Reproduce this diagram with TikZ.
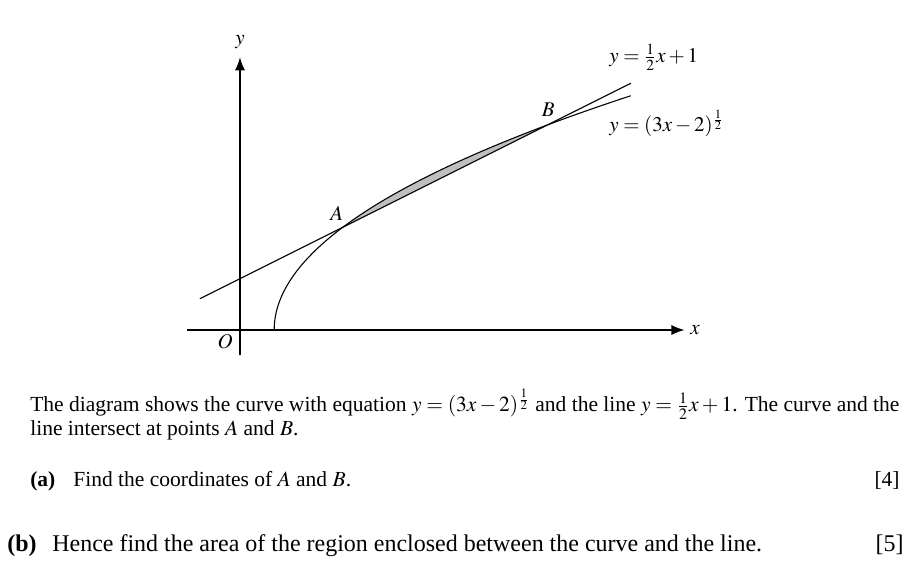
\documentclass[tikz,border=0pt]{standalone}
\usepackage{amsmath}
\usepackage{mathptmx}
\usepackage[no-math]{fontspec}
\setmainfont{Liberation Serif}
\usetikzlibrary{arrows.meta}

\begin{document}
\begin{tikzpicture}[x=1cm,y=1cm,
  axis/.style={line width=1pt,-{Latex[length=2.6mm,width=2mm]}},
  graph/.style={line width=0.6pt},
  lab/.style={inner sep=0pt,font=\fontsize{11.6}{14}\selectfont},
  body/.style={anchor=base west,inner sep=0pt,font=\fontsize{11.93}{14}\selectfont},
  bodyb/.style={body,font=\fontsize{13.3}{16}\selectfont}]

  \useasboundingbox (-4.678,-4.815) rectangle (13.080,6.433);

  % Parameters
  \def\xl{-0.78}
  \def\xr{7.62}

  % Points where curve and line meet
  \coordinate (A) at (2,2);
  \coordinate (B) at (6,4);

  % Shaded region between A and B
  \fill[gray!50] plot[domain=2:4,samples=40] ({(\x*\x+2)/3},\x) -- cycle;

  % Axes
  \draw[axis] (-1.03,0) -- (8.67,0);
  \draw[axis] (0,-0.49) -- (0,5.32);
  \node[lab] (xlab) at (8.87,0) {$x$};
  \node[lab] (ylab) at (0,5.61) {$y$};
  \node[lab] (olab) at (-0.29,-0.23) {$O$};

  % Line y = x/2 + 1
  \draw[graph] (\xl,{\xl/2+1}) -- (\xr,{\xr/2+1});

  % Curve y = (3x-2)^(1/2)
  \draw[graph] plot[domain=0:{sqrt(3*\xr-2)},samples=80] ({(\x*\x+2)/3},\x);

  % Labels
  \node[lab] (alab) at (1.885,2.275) {$A$};
  \node[lab] (blab) at (6.01,4.30) {$B$};
  \node[lab,anchor=base west] (eqline) at (7.193,5.205) {$y = \frac{1}{2}x + 1$};
  \node[lab,anchor=base west] (eqcurve) at (7.193,3.86) {$y = (3x - 2)^{\frac{1}{2}}$};

  % Question text
  \node[body] (intro1) at (-4.094,-1.598) {The diagram shows the curve with equation $y = (3x - 2)^{\frac{1}{2}}$ and the line $y = \frac{1}{2}x + 1$. The curve and the};
  \node[body] (intro2) at (-4.094,-2.047) {line intersect at points $A$ and $B$.};

  \node[body] (parta) at (-4.094,-3.041) {\textbf{(a)}};
  \node[body] (textA) at (-3.255,-3.041) {Find the coordinates of $A$ and $B$.};
  \node[body,anchor=base east] (markA) at (12.865,-3.041) {[4]};

  \node[bodyb] (partb) at (-4.542,-4.327) {\textbf{(b)}};
  \node[bodyb] (textB) at (-3.665,-4.327) {Hence find the area of the region enclosed between the curve and the line.};
  \node[bodyb,anchor=base east] (markB) at (12.943,-4.327) {[5]};

\end{tikzpicture}
\end{document}
